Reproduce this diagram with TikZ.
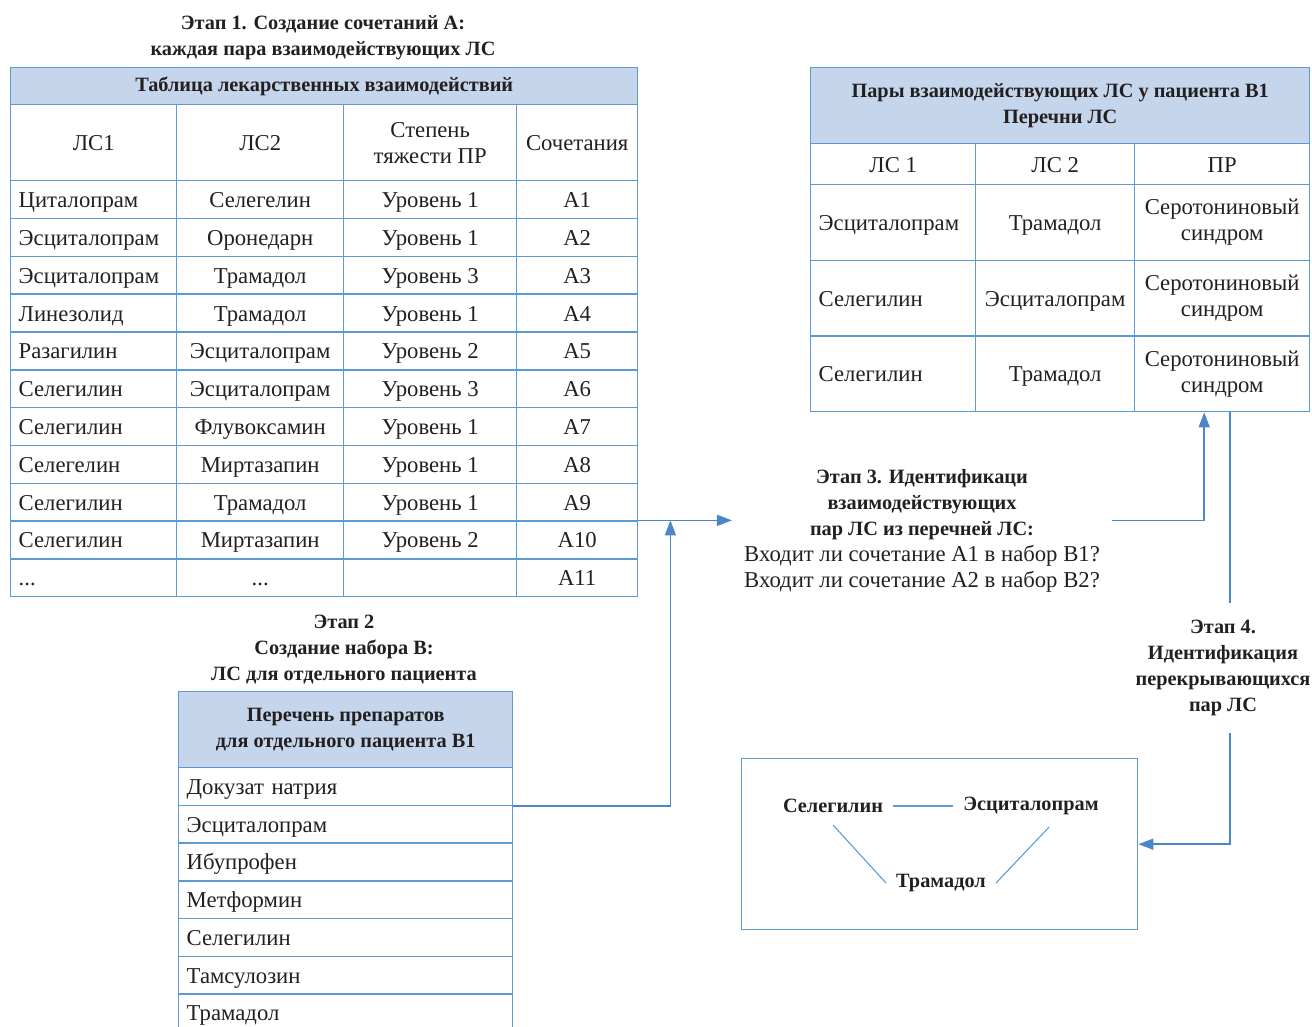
\documentclass[tikz,border=0pt]{standalone}
\usepackage{fontspec}
\setmainfont{Liberation Serif}
\usetikzlibrary{arrows.meta}
\definecolor{lineblue}{HTML}{5B9BD5}
\definecolor{headfill}{HTML}{C5D5EC}
\definecolor{arrowblue}{HTML}{4A86C8}
\definecolor{inkgray}{HTML}{231F20}
\newcommand{\moredots}{...}
\newcommand{\plainline}{\mdseries\fontsize{22.7}{26}\selectfont}
\tikzset{
  tcell/.style={draw=lineblue, line width=1.4pt, inner xsep=8pt, inner ysep=0pt, anchor=north west},
  trow/.style={tcell, text height=18pt, text depth=2pt},
  thead/.style={tcell, fill=headfill, align=center, font=\bfseries\fontsize{20.3}{26}\selectfont},
  stage/.style={align=center, font=\bfseries\fontsize{20.3}{26}\selectfont},
  pair/.style={inner xsep=10pt, inner ysep=12pt, font=\bfseries\fontsize{20.3}{26}\selectfont},
  flow/.style={draw=arrowblue, line width=1.5pt, -{Triangle[length=15pt,width=11pt]}},
  link/.style={draw=arrowblue, line width=1.5pt},
  pairline/.style={draw=lineblue, line width=1.1pt}
}
\begin{document}
\begin{tikzpicture}[x=1pt,y=-1pt,
  every node/.style={text=inkgray, font=\fontsize{22.7}{26}\selectfont}]
  \useasboundingbox (0,0) rectangle (1312,1027);

  % stage 1: interaction table
  \node[stage] (title1) at (323,38) {Этап 1. Создание сочетаний А:\\каждая пара взаимодействующих ЛС};
  \node[thead, minimum width=627, minimum height=37] (t1head) at (10,67) {Таблица лекарственных взаимодействий};
  \node[trow, minimum width=166, minimum height=76] (h1) at (10,104) {ЛС1};
  \node[trow, minimum width=167, minimum height=76] (h2) at (176,104) {ЛС2};
  \node[tcell, minimum width=173, minimum height=76, align=center] (h3) at (343,104) {Степень\\тяжести ПР};
  \node[trow, minimum width=121, minimum height=76] (h4) at (516,104) {Сочетания};
  \foreach \drugA/\drugB/\level/\combo [count=\i] in {
      Циталопрам/Селегелин/Уровень 1/А1,
      Эсциталопрам/Оронедарн/Уровень 1/А2,
      Эсциталопрам/Трамадол/Уровень 3/А3,
      Линезолид/Трамадол/Уровень 1/А4,
      Разагилин/Эсциталопрам/Уровень 2/А5,
      Селегилин/Эсциталопрам/Уровень 3/А6,
      Селегилин/Флувоксамин/Уровень 1/А7,
      Селегелин/Миртазапин/Уровень 1/А8,
      Селегилин/Трамадол/Уровень 1/А9,
      Селегилин/Миртазапин/Уровень 2/А10,
      \moredots/\moredots/{}/А11}{
    \pgfmathsetmacro{\rowy}{180+(\i-1)*37.82}
    \node[trow, text width=150, minimum height=37.82, align=left] (a\i-1) at (10,\rowy) {\drugA};
    \node[trow, minimum width=167, minimum height=37.82] (a\i-2) at (176,\rowy) {\drugB};
    \node[trow, minimum width=173, minimum height=37.82] (a\i-3) at (343,\rowy) {\level};
    \node[trow, minimum width=121, minimum height=37.82] (a\i-4) at (516,\rowy) {\combo};
  }

  % stage 2: drugs of one patient
  \node[stage] (title2) at (344,650) {Этап 2\\Создание набора В:\\ЛС для отдельного пациента};
  \node[thead, minimum width=334, minimum height=76] (blhead) at (178,691) {Перечень препаратов\\для отдельного пациента В1};
  \foreach \drug [count=\i] in {Докузат натрия, Эсциталопрам, Ибупрофен, Метформин, Селегилин, Тамсулозин, Трамадол}{
    \pgfmathsetmacro{\rowy}{767+(\i-1)*37.7}
    \node[trow, text width=318, minimum height=37.7, align=left] (b\i) at (178,\rowy) {\drug};
  }

  % pairs found for patient B1
  \node[thead, minimum width=499, minimum height=76] (t2head) at (810,67) {Пары взаимодействующих ЛС у пациента В1\\Перечни ЛС};
  \node[trow, minimum width=165, minimum height=41] (p1) at (810,143) {ЛС 1};
  \node[trow, minimum width=159, minimum height=41] (p2) at (975,143) {ЛС 2};
  \node[trow, minimum width=175, minimum height=41] (p3) at (1134,143) {ПР};
  \foreach \drugA/\drugB [count=\i] in {Эсциталопрам/Трамадол, Селегилин/Эсциталопрам, Селегилин/Трамадол}{
    \pgfmathsetmacro{\rowy}{184+(\i-1)*75.67}
    \node[trow, text width=149, minimum height=75.67, align=left] (c\i-1) at (810,\rowy) {\drugA};
    \node[trow, minimum width=159, minimum height=75.67] (c\i-2) at (975,\rowy) {\drugB};
    \node[tcell, minimum width=175, minimum height=75.67, align=center] (c\i-3) at (1134,\rowy) {Серотониновый\\синдром};
  }

  % stage 3 and stage 4
  \node[stage, inner xsep=12pt] (stage3) at (922,531) {Этап 3. Идентификаци\\взаимодействующих\\пар ЛС из перечней ЛС:\\\plainline Входит ли сочетание А1 в набор В1?\\\plainline Входит ли сочетание А2 в набор В2?};
  \node[stage, minimum height=130] (stage4) at (1223,668) {Этап 4.\\Идентификация\\перекрывающихся\\пар ЛС};

  % overlapping pairs
  \node[draw=lineblue, line width=1.4pt, minimum width=396, minimum height=171, anchor=north west] (result) at (741,758) {};
  \node[pair] (sel) at (833,806) {Селегилин};
  \node[pair] (esc) at (1031,806) {Эсциталопрам};
  \node[pair] (tram) at (941,883) {Трамадол};
  \draw[pairline] (sel) -- (esc);
  \draw[pairline] (sel.south) -- (tram.west);
  \draw[pairline] ([xshift=18pt]esc.south) -- (tram.east);

  % connectors
  \coordinate (merge) at ([xshift=32pt]a10-4.north east);
  \coordinate (s4in) at ([xshift=8pt]c3-3.south);
  \draw[flow] (a10-4.north east) -- (stage3.west |- a10-4.north east);
  \draw[flow] (b1.south east) -| (merge);
  \draw[flow] (stage3.east |- a10-4.north east) -| ([xshift=-18pt]c3-3.south);
  \draw[link] (s4in) -- (s4in |- stage4.north);
  \draw[flow] (s4in |- stage4.south) |- (result.east);
\end{tikzpicture}
\end{document}
